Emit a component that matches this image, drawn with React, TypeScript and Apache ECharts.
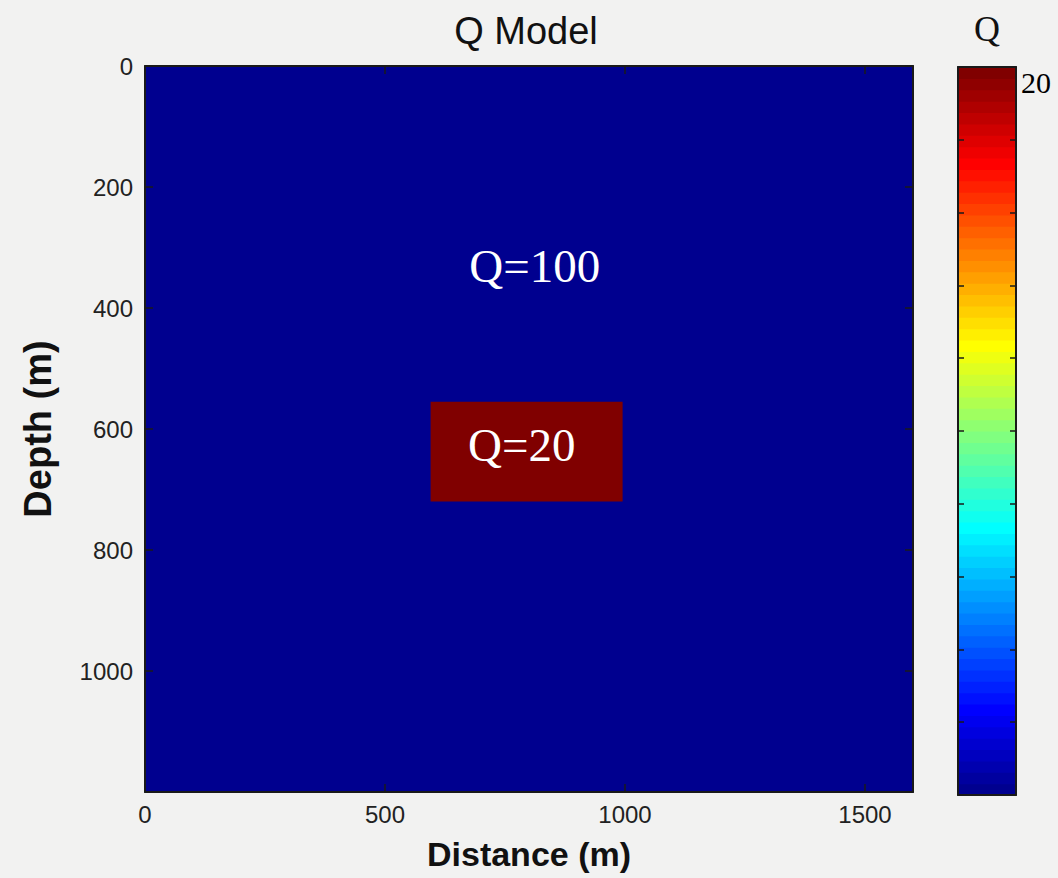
import React, { useEffect, useRef } from "react";
import * as echarts from "echarts";

// ---- data ----
const regionX0 = [0, 595];
const regionX1 = [1600, 995];
const regionY0 = [0, 555];
const regionY1 = [1200, 720];
const regionQ = [100, 20];
const labelTexts = ["Q=100", "Q=20"];
const labelX = [812, 785];
const labelY = [330, 626];
const Q_TOP = 20; // colorbar top label
const Q_LOW = 20;
const Q_HIGH = 100;
const X_MAX = 1600;
const Y_MAX = 1200;
const N_COLORS = 64;

// MATLAB jet(64) colormap
function jet(i: number): string {
  const n = 16;
  const u: number[] = [];
  for (let k = 1; k <= n; k++) u.push(k / n);
  for (let k = 0; k < n - 1; k++) u.push(1);
  for (let k = n; k >= 1; k--) u.push(k / n);
  const idx = i + 1; // 1-based
  const get = (off: number) => {
    const k = idx - off; // u index (1-based)
    return k >= 1 && k <= u.length ? u[k - 1] : 0;
  };
  const g0 = 8;
  const r = get(g0 + n);
  const g = get(g0);
  const b = get(g0 - n);
  const h = (v: number) => Math.round(v * 255).toString(16).padStart(2, "0");
  return "#" + h(r) + h(g) + h(b);
}

function qColor(q: number): string {
  const t = (Q_HIGH - q) / (Q_HIGH - Q_LOW);
  const i = Math.max(0, Math.min(N_COLORS - 1, Math.round(t * (N_COLORS - 1))));
  return jet(i);
}

const regionData = regionQ.map((q, i) => [regionX0[i], regionX1[i], regionY0[i], regionY1[i], q]);
const labelData = labelTexts.map((t, i) => ({ value: [labelX[i], labelY[i]], name: t }));
const cbData: number[][] = [];
for (let i = 0; i < N_COLORS; i++) cbData.push([0, 1, i * 10, (i + 1) * 10, i]);

const AXIS_COLOR = "#1a1a1a";
const LABEL_COLOR = "#222";

export default function App() {
  const ref = useRef<HTMLDivElement>(null);
  useEffect(() => {
    if (!ref.current) return;
    const chart = echarts.init(ref.current, null, { renderer: "svg" });
    const tickInside = { show: true, inside: true, length: 8, lineStyle: { color: AXIS_COLOR, width: 1.5 } };
    const cbTick = { show: true, inside: true, length: 6, lineStyle: { color: AXIS_COLOR, width: 1.5 } };
    const line = { show: true, onZero: false, lineStyle: { color: AXIS_COLOR, width: 2 } };
    const plain = (v: number) => String(v);
    const option: any = {
      animation: false,
      backgroundColor: "transparent",
      grid: [
        { left: 145, top: 66, width: 768, height: 726, outerBoundsMode: "none", containLabel: false },
        { left: 958, top: 67, width: 58, height: 728, outerBoundsMode: "none", containLabel: false },
      ],
      xAxis: [
        {
          type: "value", gridIndex: 0, min: 0, max: X_MAX, interval: 500, position: "bottom", z: 10,
          axisLine: line, axisTick: tickInside, splitLine: { show: false },
          axisLabel: { show: true, showMaxLabel: false, formatter: plain, color: LABEL_COLOR, fontSize: 24, fontFamily: "Liberation Sans", margin: 10 },
          name: "Distance (m)", nameLocation: "middle", nameGap: 45,
          nameTextStyle: { color: "#111", fontSize: 34, fontWeight: "bold", fontFamily: "Liberation Sans" },
        },
        {
          type: "value", gridIndex: 0, min: 0, max: X_MAX, interval: 500, position: "top", z: 10,
          axisLine: line, axisTick: tickInside, splitLine: { show: false }, axisLabel: { show: false },
        },
        {
          type: "value", gridIndex: 1, min: 0, max: 1, position: "bottom", z: 10,
          axisLine: line, axisTick: { show: false }, splitLine: { show: false }, axisLabel: { show: false },
        },
        {
          type: "value", gridIndex: 1, min: 0, max: 1, position: "top", z: 10,
          axisLine: line, axisTick: { show: false }, splitLine: { show: false }, axisLabel: { show: false },
        },
      ],
      yAxis: [
        {
          type: "value", gridIndex: 0, min: 0, max: Y_MAX, interval: 200, inverse: true, position: "left", z: 10,
          axisLine: line, axisTick: tickInside, splitLine: { show: false },
          axisLabel: { show: true, showMaxLabel: false, formatter: plain, color: LABEL_COLOR, fontSize: 24, fontFamily: "Liberation Sans", margin: 12 },
          name: "Depth (m)", nameLocation: "middle", nameGap: 88,
          nameTextStyle: { color: "#111", fontSize: 38, fontWeight: "bold", fontFamily: "Liberation Sans" },
        },
        {
          type: "value", gridIndex: 0, min: 0, max: Y_MAX, interval: 200, inverse: true, position: "right", z: 10,
          axisLine: line, axisTick: tickInside, splitLine: { show: false }, axisLabel: { show: false },
        },
        {
          type: "value", gridIndex: 1, min: 0, max: N_COLORS * 10, interval: 64, position: "left", z: 10,
          axisLine: line, axisTick: cbTick, splitLine: { show: false }, axisLabel: { show: false },
        },
        {
          type: "value", gridIndex: 1, min: 0, max: N_COLORS * 10, interval: 64, position: "right", z: 10,
          axisLine: line, axisTick: cbTick, splitLine: { show: false },
          axisLabel: {
            show: true, showMaxLabel: true, margin: 5, color: "#000", fontSize: 30, fontFamily: "Liberation Serif",
            verticalAlign: "top",
            formatter: (v: number) => (v === N_COLORS * 10 ? String(Q_TOP) : ""),
          },
        },
      ],
      series: [
        {
          type: "custom", xAxisIndex: 0, yAxisIndex: 0, data: regionData,
          encode: { x: [0, 1], y: [2, 3] },
          renderItem: (params: any, api: any) => {
            const p0 = api.coord([api.value(0), api.value(2)]);
            const p1 = api.coord([api.value(1), api.value(3)]);
            return {
              type: "rect",
              shape: {
                x: Math.min(p0[0], p1[0]), y: Math.min(p0[1], p1[1]),
                width: Math.abs(p1[0] - p0[0]), height: Math.abs(p1[1] - p0[1]),
              },
              style: { fill: qColor(api.value(4)) },
            };
          },
        },
        {
          type: "scatter", xAxisIndex: 0, yAxisIndex: 0, data: labelData, symbolSize: 0, z: 5,
          itemStyle: { opacity: 1 },
          label: {
            show: true, position: "inside", formatter: (p: any) => p.name, opacity: 1,
            color: "#ffffff", fontSize: 47, fontFamily: "Liberation Serif",
          },
        },
        {
          type: "custom", xAxisIndex: 2, yAxisIndex: 2, data: cbData,
          encode: { x: [0, 1], y: [2, 3] },
          renderItem: (params: any, api: any) => {
            const p0 = api.coord([api.value(0), api.value(2)]);
            const p1 = api.coord([api.value(1), api.value(3)]);
            return {
              type: "rect",
              shape: {
                x: Math.min(p0[0], p1[0]), y: Math.min(p0[1], p1[1]) - 0.5,
                width: Math.abs(p1[0] - p0[0]), height: Math.abs(p1[1] - p0[1]) + 1,
              },
              style: { fill: jet(api.value(4)) },
            };
          },
        },
      ],
      graphic: [
        {
          type: "text", x: 526, y: 31,
          style: { text: "Q Model", fill: "#111", font: "38px 'Liberation Sans'", align: "center", verticalAlign: "middle" },
        },
        {
          type: "text", x: 987, y: 29,
          style: { text: "Q", fill: "#111", font: "36px 'Liberation Serif'", align: "center", verticalAlign: "middle" },
        },
      ],
    };
    chart.setOption(option);
    return () => chart.dispose();
  }, []);
  return (
    <div
      ref={ref}
      style={{ position: "fixed", left: 0, top: 0, width: 1058, height: 878, background: "#f2f2f1" }}
    />
  );
}
